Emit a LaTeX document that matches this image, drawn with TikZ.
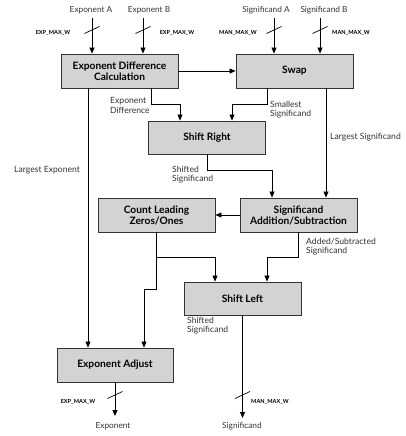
\documentclass[tikz,border=0pt]{standalone}
\usepackage{fontspec}
\setmainfont{Lato}
\usetikzlibrary{arrows.meta,calc}
\definecolor{boxfill}{HTML}{D3D3D3}
\definecolor{boxline}{HTML}{333333}
\definecolor{labelc}{HTML}{333333}
\begin{document}
\begin{tikzpicture}[x=1pt,y=-1pt,
  block/.style={draw=boxline,line width=0.9pt,fill=boxfill,minimum width=117pt,minimum height=34pt,
    inner sep=1pt,align=center,font=\fontsize{10.2}{11}\selectfont\bfseries},
  arr/.style={draw=black,line width=0.8pt,-{Triangle[length=6pt,width=5pt]}},
  lbl/.style={inner sep=0pt,align=left,text=labelc,font=\fontsize{8.6}{9.2}\selectfont},
  io/.style={inner sep=0pt,text=labelc,font=\fontsize{8.3}{9}\selectfont},
  bus/.style={inner sep=0pt,text=black,font=\fontsize{5.6}{6}\selectfont\bfseries},
  slash/.style={draw=black,line width=0.7pt}]
\useasboundingbox (0,0) rectangle (406,436);

% processing blocks
\node[block] (edc) at (119.5,71) {Exponent Difference\\Calculation};
\node[block] (swap) at (294.5,71) {Swap};
\node[block,minimum height=33pt] (sr) at (207,137.5) {Shift Right};
\node[block] (clz) at (156.5,215) {Count Leading\\Zeros/Ones};
\node[block] (sas) at (298.5,215) {Significand\\Addition/Subtraction};
\node[block,minimum height=33pt] (sl) at (242.5,298.5) {Shift Left};
\node[block,minimum width=116pt] (ea) at (115,365) {Exponent Adjust};

% inputs
\coordinate (ta) at (92,18);
\coordinate (tb) at (143,18);
\coordinate (tsa) at (274,18);
\coordinate (tsb) at (320,18);
\node[io] (ina) at (91,10) {Exponent A};
\node[io] (inb) at (149,10) {Exponent B};
\node[io] (insa) at (266,10) {Significand A};
\node[io] (insb) at (324,10) {Significand B};
\draw[arr] (ta) -- (ta |- edc.north);
\draw[arr] (tb) -- (tb |- edc.north);
\draw[arr] (tsa) -- (tsa |- swap.north);
\draw[arr] (tsb) -- (tsb |- swap.north);
\foreach \n in {ta,tb,tsa,tsb}
  \draw[slash] ($(\n |- 0,30)+(-7.5,3.5)$) -- ++(15,-7);
\node[bus] (wa) at (53,33) {EXP\_MAX\_W};
\node[bus] (wb) at (177,33) {EXP\_MAX\_W};
\node[bus] (wsa) at (238,33) {MAN\_MAX\_W};
\node[bus] (wsb) at (351,33) {MAN\_MAX\_W};

% data paths
\draw[arr] (edc.east) -- (swap.west);
\draw[arr] ([xshift=31.5]edc.south) -- ++(0,16) -| ([xshift=-27]sr.north);
\draw[arr] ([xshift=-27.5]swap.south) -- ++(0,16) -| ([xshift=25]sr.north);
\draw[arr] ([xshift=31.5]swap.south) -- ([xshift=31.5]swap.south |- sas.north);
\draw[arr] ([xshift=-31.5]edc.south) -- ([xshift=-31.5]edc.south |- ea.north);
\draw[arr] (sr.south) -- ++(0,16) -| ([xshift=-26.5]sas.north);
\draw[arr] (sas.west) -- (clz.east);
\draw[arr] (clz.south) -- ++(0,25) coordinate (j) -| ([xshift=-27.5]sl.north);
\draw[arr] (j) -- ++(0,32) -| ([xshift=29]ea.north);
\draw[arr] (sas.south) -- ++(0,25) -| ([xshift=24.5]sl.north);

% outputs
\coordinate (oe) at (115,416);
\coordinate (os) at (242.5,418);
\draw[arr] (ea.south) -- (oe);
\draw[arr] (sl.south) -- (os);
\draw[slash] ($(ea.south |- 0,395)+(-7.5,3.5)$) -- ++(15,-7);
\draw[slash] ($(sl.south |- 0,395)+(-7.5,3.5)$) -- ++(15,-7);
\node[bus] (we) at (78,402) {EXP\_MAX\_W};
\node[bus] (ws) at (270,402) {MAN\_MAX\_W};
\node[io] (outE) at (113,426) {Exponent};
\node[io] (outS) at (242,426) {Significand};

% path labels
\node[lbl,anchor=west] (l1) at (110,105.5) {Exponent\\Difference};
\node[lbl,anchor=west] (l2) at (270,109.5) {Smallest\\Significand};
\node[lbl,anchor=west] (l3) at (330,137) {Largest Significand};
\node[lbl,anchor=west] (l4) at (14,170) {Largest Exponent};
\node[lbl,anchor=west] (l5) at (172,174.5) {Shifted\\Significand};
\node[lbl,anchor=west] (l6) at (306,247) {Added/Subtracted\\Significand};
\node[lbl,anchor=west] (l7) at (187,326) {Shifted\\Significand};
\end{tikzpicture}
\end{document}
